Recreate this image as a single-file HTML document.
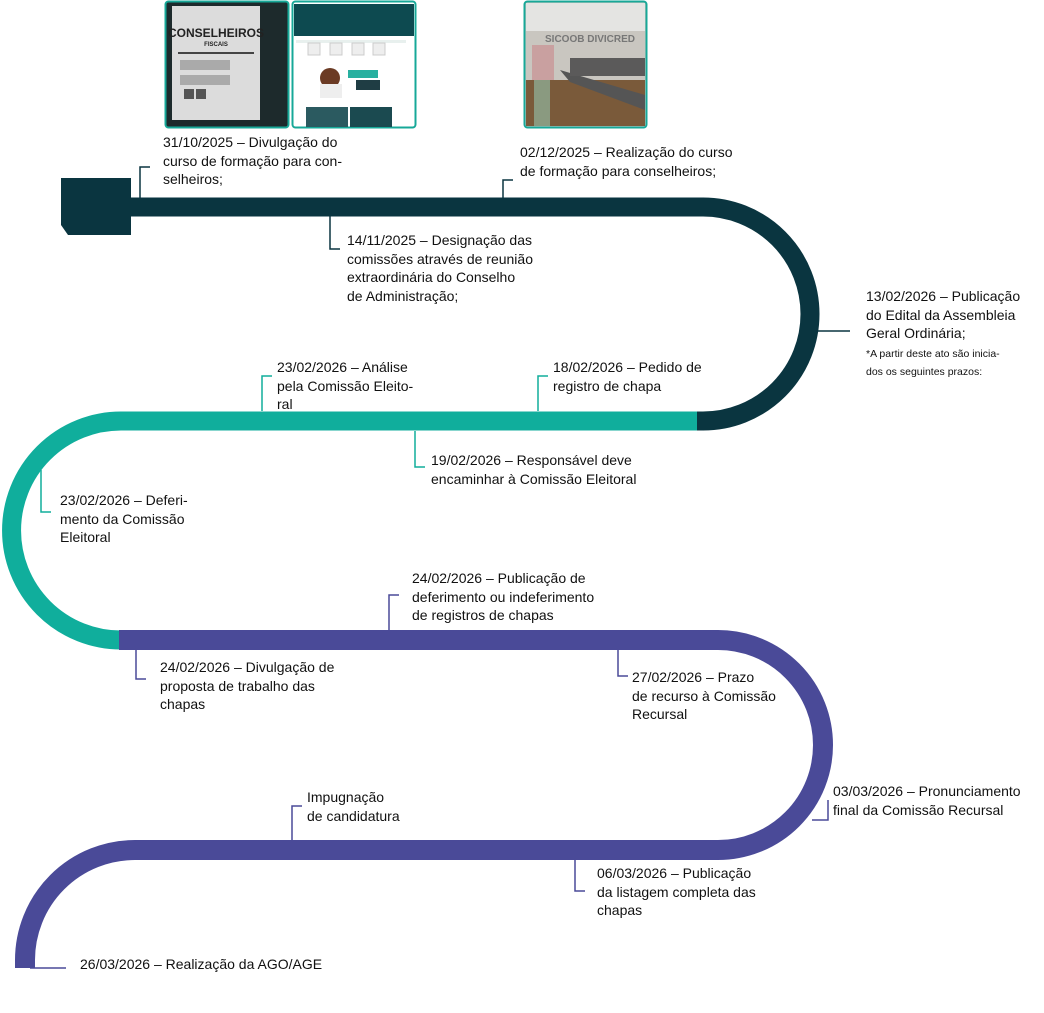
<!DOCTYPE html>
<html><head><meta charset="utf-8"><style>
html,body{margin:0;padding:0;background:#fff;}
body{width:1044px;height:1013px;position:relative;overflow:hidden;font-family:"Liberation Sans",Arial,sans-serif;color:#111;}
.t{position:absolute;font-size:14px;line-height:18.5px;white-space:nowrap;}
.s{font-size:10.5px;line-height:14px;}
</style></head><body>
<svg width="1044" height="1013" style="position:absolute;left:0;top:0">
<rect x="165.5" y="1.5" width="123" height="126" rx="3" fill="#1d2a2c" stroke="#17a898" stroke-width="2"/>
<rect x="172" y="6" width="88" height="114" fill="#dcdcdc"/>
<text x="216" y="37" font-family="Liberation Sans" font-weight="bold" font-size="12" text-anchor="middle" fill="#222">CONSELHEIROS</text>
<text x="216" y="46" font-family="Liberation Sans" font-weight="bold" font-size="6" text-anchor="middle" fill="#222">FISCAIS</text>
<rect x="178" y="52" width="76" height="2" fill="#444"/>
<rect x="180" y="60" width="50" height="10" fill="#aaa"/><rect x="180" y="75" width="50" height="10" fill="#aaa"/>
<rect x="184" y="89" width="10" height="10" fill="#555"/><rect x="196" y="89" width="10" height="10" fill="#555"/>
<rect x="292.5" y="1.5" width="123" height="126" rx="3" fill="#fff" stroke="#17a898" stroke-width="2"/>
<rect x="294" y="4" width="120" height="32" fill="#0d4a50"/>
<rect x="296" y="40" width="110" height="3" fill="#e8f0ee"/>
<rect x="308" y="43" width="12" height="12" fill="#eee" stroke="#ccc"/><rect x="330" y="43" width="12" height="12" fill="#eee" stroke="#ccc"/><rect x="352" y="43" width="12" height="12" fill="#eee" stroke="#ccc"/><rect x="373" y="43" width="12" height="12" fill="#eee" stroke="#ccc"/>
<circle cx="330" cy="78" r="10" fill="#6b3b24"/><rect x="320" y="84" width="22" height="14" fill="#eee"/>
<rect x="348" y="70" width="30" height="8" fill="#28b0a0"/><rect x="356" y="80" width="24" height="10" fill="#1f3d44"/>
<rect x="306" y="107" width="42" height="20" fill="#2b5a60"/><rect x="350" y="107" width="42" height="20" fill="#1b4a50"/>
<rect x="524.5" y="1.5" width="122" height="126" rx="3" fill="#c9c6c0" stroke="#17a898" stroke-width="2"/>
<rect x="526" y="3" width="119" height="28" fill="#e4e4e2"/>
<text x="545" y="42" font-family="Liberation Sans" font-weight="bold" font-size="10" fill="#777">SICOOB DIVICRED</text>
<rect x="526" y="80" width="119" height="46" fill="#7a5a3a"/>
<polygon points="560,70 645,95 645,110 570,82" fill="#555"/>
<rect x="532" y="45" width="22" height="35" fill="#c9a0a0"/><rect x="534" y="80" width="16" height="46" fill="#8a9a80"/>
<rect x="570" y="58" width="75" height="18" fill="#5b5a5a"/>
<path d="M131 207 H703 A107 107 0 0 1 703 421 H697" fill="none" stroke="#0a3540" stroke-width="19"/>
<path d="M697 421 H121 A109.5 109.5 0 0 0 121 640" fill="none" stroke="#10ae9c" stroke-width="19"/>
<path d="M119 640 H718 A105 105 0 0 1 718 850 H135 A110 110 0 0 0 25 960 V968" fill="none" stroke="#4a4a98" stroke-width="20"/>
<line x1="30" y1="968" x2="66" y2="968" stroke="#4a4a98" stroke-width="1.5"/>
<path d="M61 178 H131 V235 H68 L61 225 Z" fill="#0a3540"/>
<g fill="none" stroke-width="1.5">
<path d="M140 198 V167 H150" stroke="#0a3540"/>
<path d="M503 198 V180 H513" stroke="#0a3540"/>
<path d="M330 216 V249 H340" stroke="#0a3540"/>
<path d="M816 331 H850" stroke="#0a3540"/>
<path d="M262 411 V376 H272" stroke="#10ae9c"/>
<path d="M538 411 V376 H548" stroke="#10ae9c"/>
<path d="M415 431 V467 H425" stroke="#10ae9c"/>
<path d="M41 470 V512 H51" stroke="#10ae9c"/>
<path d="M389 630 V595 H399" stroke="#4a4a98"/>
<path d="M136 650 V679 H146" stroke="#4a4a98"/>
<path d="M618 650 V676 H628" stroke="#4a4a98"/>
<path d="M812 820 H828 V800" stroke="#4a4a98"/>
<path d="M292 840 V806 H302" stroke="#4a4a98"/>
<path d="M575 860 V891 H585" stroke="#4a4a98"/>
</g>
</svg>
<div class="t" style="left:163px;top:133px">31/10/2025 – Divulgação do<br>curso de formação para con-<br>selheiros;</div>
<div class="t" style="left:520px;top:143px">02/12/2025 – Realização do curso<br>de formação para conselheiros;</div>
<div class="t" style="left:347px;top:231px">14/11/2025 – Designação das<br>comissões através de reunião<br>extraordinária do Conselho<br>de Administração;</div>
<div class="t" style="left:866px;top:287px">13/02/2026 – Publicação<br>do Edital da Assembleia<br>Geral Ordinária;<br><span class="s">*A partir deste ato são inicia-<br>dos os seguintes prazos:</span></div>
<div class="t" style="left:277px;top:358px">23/02/2026 – Análise<br>pela Comissão Eleito-<br>ral</div>
<div class="t" style="left:553px;top:358px">18/02/2026 – Pedido de<br>registro de chapa</div>
<div class="t" style="left:431px;top:451px">19/02/2026 – Responsável deve<br>encaminhar à Comissão Eleitoral</div>
<div class="t" style="left:60px;top:491px">23/02/2026 – Deferi-<br>mento da Comissão<br>Eleitoral</div>
<div class="t" style="left:412px;top:569px">24/02/2026 – Publicação de<br>deferimento ou indeferimento<br>de registros de chapas</div>
<div class="t" style="left:160px;top:658px">24/02/2026 – Divulgação de<br>proposta de trabalho das<br>chapas</div>
<div class="t" style="left:632px;top:668px">27/02/2026 – Prazo<br>de recurso à Comissão<br>Recursal</div>
<div class="t" style="left:833px;top:782px">03/03/2026 – Pronunciamento<br>final da Comissão Recursal</div>
<div class="t" style="left:307px;top:788px">Impugnação<br>de candidatura</div>
<div class="t" style="left:597px;top:864px">06/03/2026 – Publicação<br>da listagem completa das<br>chapas</div>
<div class="t" style="left:80px;top:955px">26/03/2026 – Realização da AGO/AGE</div>
</body></html>
